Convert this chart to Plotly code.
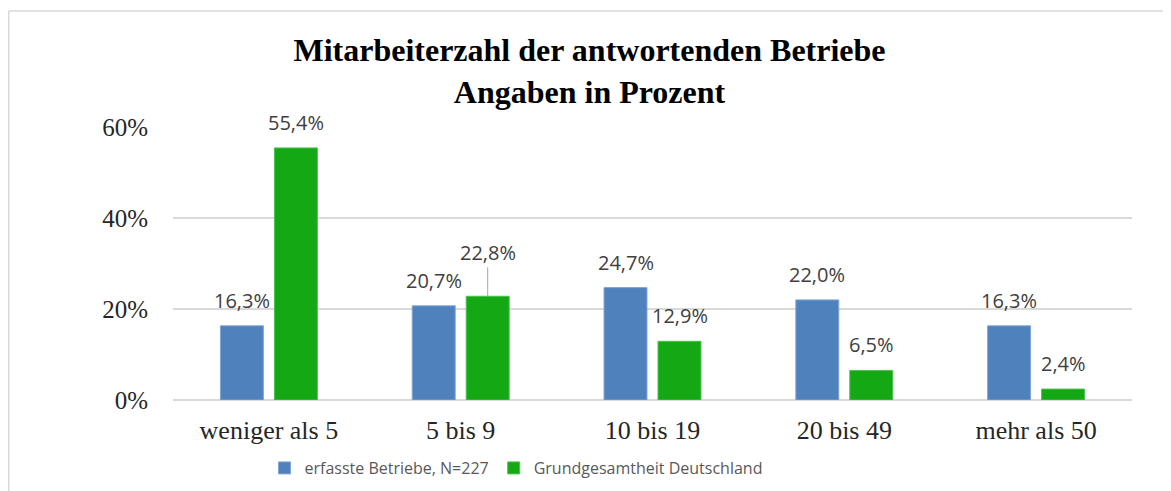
import plotly.graph_objects as go

categories = ["weniger als 5", "5 bis 9", "10 bis 19", "20 bis 49", "mehr als 50"]
erfasste = [16.3, 20.7, 24.7, 22.0, 16.3]
grundgesamtheit = [55.4, 22.8, 12.9, 6.5, 2.4]
tick_values = [0, 20, 40, 60]

BLUE = "#4F81BD"
GREEN = "#14A814"
LABEL_FONT = {"family": "Open Sans", "size": 20, "color": "#404040"}
SERIF = "Liberation Serif"

# the page puts the figure 8px in from the top-left corner
OFF = 8
W, H = 1171 - OFF, 491 - OFF
# plot area in page pixels: 173..1132 x 127..400
L, R, T, B = 173 - OFF, 1132 - OFF, 127 - OFF, 400 - OFF


def px_x(p):
    return (p - OFF - L) / (R - L)


def px_y(p):
    return (B - (p - OFF)) / (B - T)


def de(v):
    return f"{v:.1f}".replace(".", ",") + "%"


fig = go.Figure()
fig.add_trace(go.Bar(x=categories, y=erfasste, name="erfasste Betriebe, N=227",
                     marker={"color": BLUE, "line": {"color": "#7FA6D6", "width": 1}}))
fig.add_trace(go.Bar(x=categories, y=grundgesamtheit, name="Grundgesamtheit Deutschland",
                     marker={"color": GREEN, "line": {"color": "#4CC24C", "width": 1}}))

annotations = []
for cat, v in zip(categories, erfasste):
    annotations.append(dict(x=cat, y=v, text=de(v), showarrow=False, xshift=-27,
                            yanchor="bottom", yshift=10, font=LABEL_FONT))
for cat, v in zip(categories, grundgesamtheit):
    if cat == "5 bis 9":
        annotations.append(dict(x=cat, y=v, text=de(v), showarrow=True, arrowhead=0,
                                arrowwidth=1, arrowcolor="#A6A6A6", ax=0, ay=-44,
                                xshift=27, font=LABEL_FONT))
    else:
        annotations.append(dict(x=cat, y=v, text=de(v), showarrow=False, xshift=27,
                                yanchor="bottom", yshift=10, font=LABEL_FONT))

frame = {"color": "#D9D9D9", "width": 1.5}
shapes = [
    dict(type="line", xref="paper", yref="paper", x0=px_x(8.75), x1=px_x(1171),
         y0=px_y(11), y1=px_y(11), line=frame),
    dict(type="line", xref="paper", yref="paper", x0=px_x(8.75), x1=px_x(8.75),
         y0=px_y(11), y1=px_y(491), line=frame),
]

fig.update_layout(
    width=W,
    height=H,
    paper_bgcolor="white",
    plot_bgcolor="white",
    margin={"l": L, "r": W - R, "t": T, "b": H - B},
    barmode="group",
    bargap=0.437,
    bargroupgap=0.204,
    title={
        "text": "<b>Mitarbeiterzahl der antwortenden Betriebe<br>Angaben in Prozent</b>",
        "font": {"family": SERIF, "size": 32, "color": "black"},
        "x": 0.5,
        "xanchor": "center",
        "y": 1 - (61 - OFF) / H,
        "yanchor": "middle",
    },
    xaxis={
        "tickfont": {"family": SERIF, "size": 26, "color": "#262626"},
        "showline": False,
        "ticks": "",
        "ticklabelstandoff": 12,
        "automargin": False,
    },
    yaxis={
        "range": [0, 60],
        "tickvals": tick_values,
        "ticktext": [f"{t}%" for t in tick_values],
        "tickfont": {"family": SERIF, "size": 25, "color": "#262626"},
        "gridcolor": "#D9D9D9",
        "gridwidth": 1.5,
        "zeroline": True,
        "zerolinecolor": "#D9D9D9",
        "zerolinewidth": 1.5,
        "ticklabelstandoff": 24,
        "automargin": False,
    },
    legend={
        "orientation": "h",
        "xref": "container",
        "yref": "container",
        "x": (516 - OFF) / W,
        "xanchor": "center",
        "y": 1 - (468 - OFF) / H,
        "yanchor": "middle",
        "font": {"family": "Open Sans", "size": 16, "color": "#595959"},
        "itemwidth": 30,
    },
    annotations=annotations,
    shapes=shapes,
)

fig.write_html("out.html")
